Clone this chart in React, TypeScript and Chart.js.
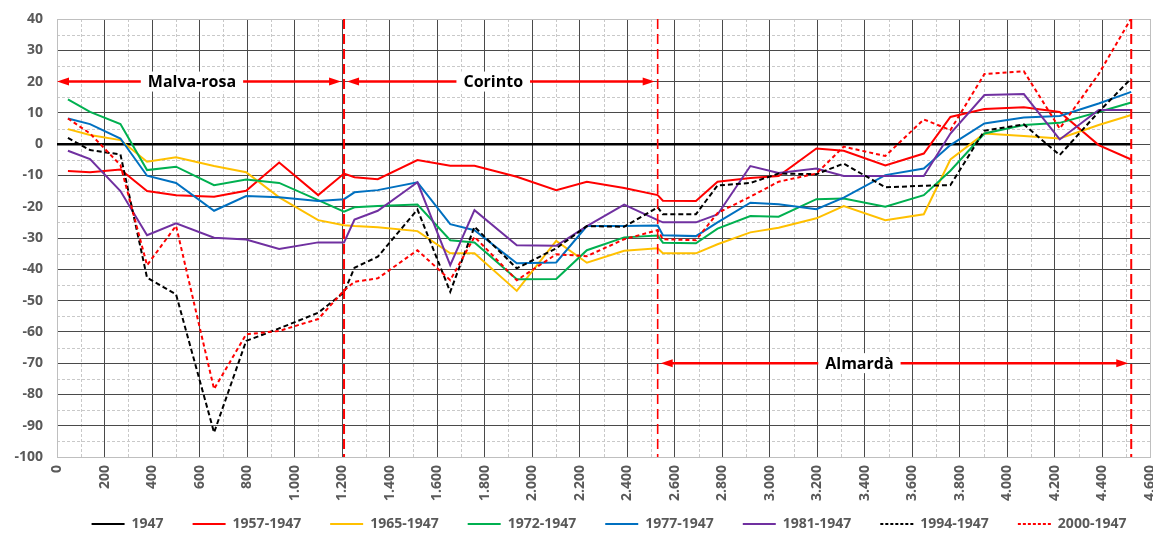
import React, { useEffect, useRef } from "react";
import { Chart, registerables } from "chart.js";

Chart.register(...registerables);

// Distance along the coast (m) of each profile
const DIST = [46, 139, 267, 379, 501, 661, 796, 935, 1099, 1208, 1252, 1350, 1517, 1655, 1757, 1935, 2101, 2230, 2387, 2528, 2550, 2689, 2780, 2918, 3037, 3196, 3311, 3486, 3648, 3760, 3903, 4069, 4220, 4384, 4521];
const DIST_1947 = [0, 4521];

// Shoreline change relative to 1947 (m)
const V_1947 = [0, 0];
const V_1957 = [-8.6, -9.0, -8.1, -15.0, -16.3, -16.8, -14.9, -5.9, -16.3, -9.4, -10.6, -11.2, -5.1, -6.9, -6.9, -10.4, -14.7, -12.0, -14.0, -16.3, -18.1, -18.2, -12.0, -10.8, -10.2, -1.4, -2.1, -6.8, -3.0, 8.7, 11.2, 11.8, 10.3, -0.3, -4.9];
const V_1965 = [4.8, 2.9, 1.3, -5.6, -4.2, -7.0, -9.0, -17.0, -24.3, -25.9, -26.2, -26.6, -27.8, -34.9, -34.9, -46.9, -30.9, -37.9, -34.1, -33.3, -34.9, -34.9, -32.0, -28.2, -26.7, -23.7, -19.8, -24.3, -22.4, -4.9, 3.4, 2.6, 1.8, 6.1, 9.3];
const V_1972 = [14.3, 10.3, 6.4, -8.3, -7.2, -13.1, -11.3, -12.4, -17.9, -21.6, -20.2, -19.8, -19.3, -30.7, -31.4, -43.2, -43.1, -33.9, -29.8, -29.2, -31.5, -31.7, -27.0, -23.0, -23.2, -17.6, -17.4, -20.0, -16.3, -8.5, 3.4, 6.1, 6.8, 10.3, 13.3];
const V_1977 = [8.2, 6.4, 1.8, -10.1, -12.4, -21.3, -16.6, -17.0, -18.2, -17.6, -15.4, -14.7, -12.2, -25.6, -27.5, -38.1, -37.8, -26.2, -26.2, -26.0, -29.1, -29.4, -25.0, -18.7, -19.2, -20.8, -17.1, -9.9, -7.8, -0.3, 6.6, 8.5, 9.0, 13.0, 16.7];
const V_1981 = [-2.1, -4.8, -15.0, -29.1, -25.3, -29.9, -30.5, -33.5, -31.4, -31.4, -24.1, -21.3, -12.2, -38.7, -21.1, -32.3, -32.5, -26.2, -19.3, -24.3, -25.0, -25.0, -22.5, -7.0, -9.2, -7.8, -10.2, -10.2, -10.2, 3.4, 15.7, 16.0, 1.5, 10.9, 10.9];
const V_1994 = [2.0, -1.9, -3.3, -42.7, -48.0, -92.2, -62.9, -58.9, -53.9, -47.4, -39.5, -36.0, -20.9, -47.2, -26.4, -39.7, -33.3, -26.2, -26.4, -20.2, -22.4, -22.4, -13.2, -12.4, -9.4, -9.6, -6.2, -13.8, -13.3, -13.1, 4.3, 6.3, -3.5, 10.3, 21.0];
const V_2000 = [8.2, 3.4, -6.7, -38.7, -26.1, -78.3, -60.8, -59.7, -55.9, -46.8, -44.0, -42.9, -33.9, -43.5, -29.6, -43.5, -35.2, -35.8, -30.4, -27.5, -30.4, -30.7, -22.0, -16.8, -12.0, -9.4, -0.8, -3.8, 7.9, 4.5, 22.4, 23.3, 5.0, 22.4, 40.2];

const SERIES_LABELS = ["1947", "1957-1947", "1965-1947", "1972-1947", "1977-1947", "1981-1947", "1994-1947", "2000-1947"];
const SERIES_X = [DIST_1947, DIST, DIST, DIST, DIST, DIST, DIST, DIST];
const SERIES_Y = [V_1947, V_1957, V_1965, V_1972, V_1977, V_1981, V_1994, V_2000];

// Axes
const X_MIN = 0;
const X_MAX = 4600;
const X_STEP = 200;
const X_MINOR = 100;
const Y_MIN = -100;
const Y_MAX = 40;
const Y_STEP = 10;
const Y_MINOR = 5;

// Beach sectors
const SECTOR_NAMES = ["Malva-rosa", "Corinto", "Almardà"];
const SECTOR_FROM = [0, 1208, 2528];
const SECTOR_TO = [1208, 2528, 4521];
const SECTOR_LEVEL = [20, 20, -70];
const SECTOR_LABEL_AT = [568, 1836, 3377];
const DIVIDERS = [1208, 2528, 4521];

// Styles
const COLORS = ["#000000", "#FF0000", "#FFC000", "#00B050", "#0070C0", "#7030A0", "#000000", "#FF0000"];
const WIDTHS = [2.5, 2, 2, 2, 2, 2, 2, 2];
const DASHES: number[][] = [[], [], [], [], [], [], [5, 3], [4, 3]];
const LEGEND_DASHES: number[][] = [[], [], [], [], [], [], [3, 2], [3, 2]];
const DIVIDER_WIDTHS = [2, 1.6, 2];

const FONT = "'Open Sans', 'Noto Sans', sans-serif";
const GRID_DARK = "#4a4a4a";
const GRID_EDGE = "#bfbfbf";
const GRID_MINOR = "#c9c9c9";
const TICK_COLOR = "#595959";
const LEGEND_CENTER_Y = 524;
const LEGEND_SHIFT_X = 34;

function fmtThousands(v: number): string {
  const n = Math.round(v);
  if (Math.abs(n) >= 1000) {
    const k = Math.floor(n / 1000);
    const r = String(n % 1000).padStart(3, "0");
    return `${k}.${r}`;
  }
  return String(n);
}

const minorGridPlugin = {
  id: "minorGrid",
  beforeDraw(chart: any) {
    const { ctx, chartArea: a, scales } = chart;
    const x = scales.x;
    const y = scales.y;
    ctx.save();
    ctx.strokeStyle = GRID_MINOR;
    ctx.lineWidth = 1;
    ctx.setLineDash([3, 2]);
    for (let v = X_MIN + X_MINOR; v < X_MAX; v += X_STEP) {
      const px = Math.round(x.getPixelForValue(v)) + 0.5;
      ctx.beginPath();
      ctx.moveTo(px, a.top);
      ctx.lineTo(px, a.bottom);
      ctx.stroke();
    }
    for (let v = Y_MIN + Y_MINOR; v < Y_MAX; v += Y_STEP) {
      const py = Math.round(y.getPixelForValue(v)) + 0.5;
      ctx.beginPath();
      ctx.moveTo(a.left, py);
      ctx.lineTo(a.right, py);
      ctx.stroke();
    }
    ctx.restore();
  },
};

const annotationPlugin = {
  id: "sectors",
  afterLayout(chart: any) {
    const lg = chart.legend;
    if (lg) {
      const pad = lg.options.labels.padding;
      const fs = lg.options.labels.font.size;
      const h = lg.height;
      lg.left += LEGEND_SHIFT_X;
      lg.right += LEGEND_SHIFT_X;
      lg.top = LEGEND_CENTER_Y - pad - fs / 2;
      lg.bottom = lg.top + h;
    }
  },
  afterDatasetsDraw(chart: any) {
    const { ctx, chartArea: a, scales } = chart;
    const x = scales.x;
    const y = scales.y;
    ctx.save();
    ctx.strokeStyle = "#FF0000";
    DIVIDERS.forEach((d, i) => {
      const px = x.getPixelForValue(d);
      ctx.lineWidth = DIVIDER_WIDTHS[i];
      ctx.setLineDash([10, 5]);
      ctx.beginPath();
      ctx.moveTo(px, a.top);
      ctx.lineTo(px, a.bottom);
      ctx.stroke();
    });
    ctx.setLineDash([]);
    SECTOR_NAMES.forEach((name, i) => {
      const gapL = SECTOR_FROM[i] === X_MIN ? 0 : 3;
      const x1 = x.getPixelForValue(SECTOR_FROM[i]) + gapL;
      const x2 = x.getPixelForValue(SECTOR_TO[i]) - 3;
      const py = y.getPixelForValue(SECTOR_LEVEL[i]);
      ctx.strokeStyle = "#FF0000";
      ctx.fillStyle = "#FF0000";
      ctx.lineWidth = 2.5;
      ctx.beginPath();
      ctx.moveTo(x1 + 6, py);
      ctx.lineTo(x2 - 6, py);
      ctx.stroke();
      const L = 12;
      const H = 4;
      ctx.beginPath();
      ctx.moveTo(x1, py);
      ctx.lineTo(x1 + L, py - H);
      ctx.lineTo(x1 + L, py + H);
      ctx.closePath();
      ctx.fill();
      ctx.beginPath();
      ctx.moveTo(x2, py);
      ctx.lineTo(x2 - L, py - H);
      ctx.lineTo(x2 - L, py + H);
      ctx.closePath();
      ctx.fill();
      const cx = x.getPixelForValue(SECTOR_LABEL_AT[i]);
      ctx.font = `bold 16px ${FONT}`;
      const w = ctx.measureText(name).width;
      ctx.fillStyle = "#FFFFFF";
      ctx.fillRect(cx - w / 2 - 7, py - 10, w + 14, 20);
      ctx.fillStyle = "#000000";
      ctx.textAlign = "center";
      ctx.textBaseline = "middle";
      ctx.fillText(name, cx, py + 1);
    });
    ctx.restore();
  },
};

export default function App() {
  const ref = useRef<HTMLCanvasElement | null>(null);

  useEffect(() => {
    if (!ref.current) return;
    const n = SERIES_LABELS.length;
    const datasets = SERIES_LABELS.map((label, i) => ({
      label,
      data: SERIES_X[i].map((xv, j) => ({ x: xv, y: SERIES_Y[i][j] })),
      borderColor: COLORS[i],
      backgroundColor: COLORS[i],
      borderWidth: WIDTHS[i],
      borderDash: DASHES[i],
      pointRadius: 0,
      tension: 0,
      fill: false,
      order: n - i,
    }));

    const chart = new Chart(ref.current, {
      type: "line",
      data: { datasets },
      plugins: [minorGridPlugin, annotationPlugin],
      options: {
        responsive: false,
        animation: false,
        events: [],
        layout: { padding: { top: 19, right: 3, left: 0, bottom: -27 } },
        plugins: {
          tooltip: { enabled: false },
          legend: {
            position: "bottom",
            labels: {
              usePointStyle: true,
              pointStyle: "line",
              pointStyleWidth: 33,
              padding: 29,
              color: TICK_COLOR,
              font: { family: FONT, size: 14, weight: "bold" },
              sort: (a: any, b: any) => a.datasetIndex - b.datasetIndex,
              generateLabels: (chart: any) => {
                const items = (Chart as any).defaults.plugins.legend.labels.generateLabels(chart);
                items.forEach((it: any) => {
                  const i = it.datasetIndex;
                  it.lineDash = LEGEND_DASHES[i];
                  it.lineWidth = 2;
                  it.strokeStyle = COLORS[i];
                  it.fillStyle = COLORS[i];
                  it.pointStyle = "line";
                });
                return items;
              },
            },
          },
        },
        scales: {
          x: {
            type: "linear",
            min: X_MIN,
            max: X_MAX,
            ticks: {
              stepSize: X_STEP,
              autoSkip: false,
              minRotation: 90,
              maxRotation: 90,
              padding: 8,
              color: TICK_COLOR,
              font: { family: FONT, size: 14, weight: "bold" },
              callback: (v: any) => fmtThousands(Number(v)),
            },
            grid: {
              drawTicks: false,
              lineWidth: 1,
              color: (c: any) =>
                c.tick && (c.tick.value === X_MIN || c.tick.value === X_MAX) ? GRID_EDGE : GRID_DARK,
            },
            border: { color: GRID_EDGE, width: 1 },
            afterFit: (s: any) => {
              s.height = 50;
              s.paddingLeft = 0;
              s.paddingRight = 0;
            },
          },
          y: {
            type: "linear",
            min: Y_MIN,
            max: Y_MAX,
            ticks: {
              stepSize: Y_STEP,
              padding: 14,
              color: TICK_COLOR,
              font: { family: FONT, size: 14, weight: "bold" },
              callback: (v: any) => String(Math.round(Number(v))),
            },
            grid: {
              drawTicks: false,
              lineWidth: 1,
              color: (c: any) =>
                c.tick && (c.tick.value === Y_MIN || c.tick.value === Y_MAX) ? GRID_EDGE : GRID_DARK,
            },
            border: { color: GRID_EDGE, width: 1 },
            afterFit: (s: any) => {
              s.width = 57;
              s.paddingTop = 0;
              s.paddingBottom = 0;
            },
          },
        },
      } as any,
    });
    return () => chart.destroy();
  }, []);

  return (
    <div style={{ position: "absolute", left: 0, top: 0, width: 1153, height: 533, background: "#fff" }}>
      <canvas ref={ref} width={1153} height={533} style={{ display: "block" }} />
    </div>
  );
}
